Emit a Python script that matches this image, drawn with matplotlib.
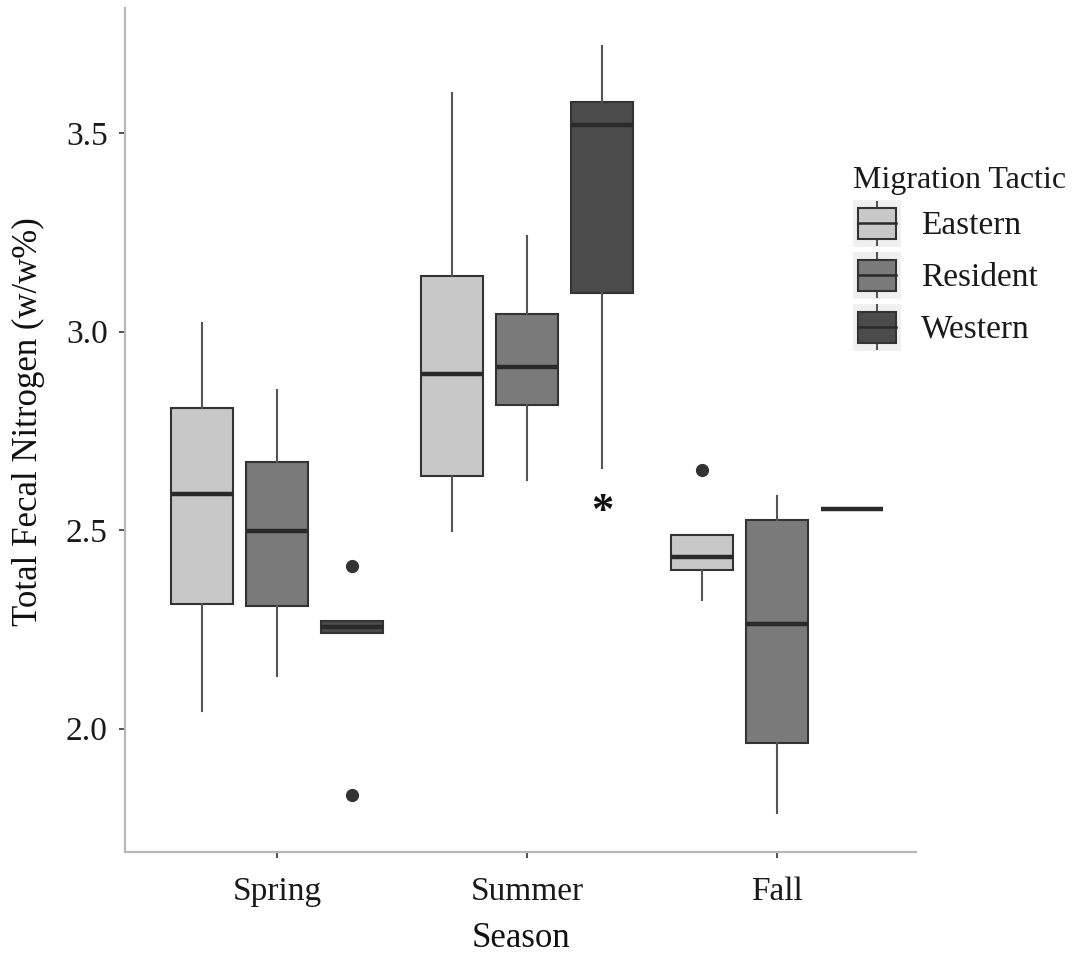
import numpy as np
import matplotlib.pyplot as plt
from matplotlib.legend_handler import HandlerBase
from matplotlib.patches import Rectangle
from matplotlib.lines import Line2D

plt.rcParams['font.family'] = ['Liberation Serif', 'DejaVu Serif']

seasons = ['Spring', 'Summer', 'Fall']
tactics = ['Eastern', 'Resident', 'Western']
fills = ['#c8c8c8', '#7a7a7a', '#4b4b4b']

# five-number summaries per tactic, one value per season
whislo = {'Eastern': [2.044, 2.497, 2.324],
          'Resident': [2.132, 2.626, 1.787],
          'Western': [2.241, 2.656, 2.553]}
q1 = {'Eastern': [2.314, 2.636, 2.399],
      'Resident': [2.309, 2.815, 1.963],
      'Western': [2.241, 3.097, 2.553]}
med = {'Eastern': [2.591, 2.893, 2.432],
       'Resident': [2.497, 2.911, 2.263],
       'Western': [2.256, 3.520, 2.553]}
q3 = {'Eastern': [2.807, 3.140, 2.487],
      'Resident': [2.671, 3.044, 2.525],
      'Western': [2.271, 3.578, 2.553]}
whishi = {'Eastern': [3.021, 3.601, 2.487],
          'Resident': [2.853, 3.241, 2.586],
          'Western': [2.271, 3.719, 2.553]}
fliers = {'Eastern': [[], [], [2.651]],
          'Resident': [[], [], []],
          'Western': [[2.409, 1.833], [], []]}

# significance mark for Western in summer
star_season = 'Summer'
star_tactic = 'Western'
star_y = 2.545

fig = plt.figure(figsize=(10.8, 9.55), dpi=100)
ax = fig.add_axes([125 / 1080, 103 / 955, (916 - 125) / 1080, (852 - 8) / 955])

dodge = 0.3
width = 0.25
for k, t in enumerate(tactics):
    stats = []
    for i in range(len(seasons)):
        stats.append(dict(whislo=whislo[t][i], q1=q1[t][i], med=med[t][i],
                          q3=q3[t][i], whishi=whishi[t][i], fliers=fliers[t][i]))
    pos = np.arange(len(seasons)) + (k - 1) * dodge
    ax.bxp(stats, positions=pos, widths=width, patch_artist=True,
           showcaps=False, manage_ticks=False,
           boxprops=dict(facecolor=fills[k], edgecolor='#333333', linewidth=1.5),
           medianprops=dict(color='#2a2a2a', linewidth=3.2, solid_capstyle='butt'),
           whiskerprops=dict(color='#555555', linewidth=1.5),
           flierprops=dict(marker='o', markersize=8.5, markerfacecolor='#333333',
                           markeredgecolor='#333333'))

ax.text(seasons.index(star_season) + (tactics.index(star_tactic) - 1) * dodge, star_y,
        '*', ha='center', va='center', fontsize=32, fontweight='bold', color='#111111')

ax.set_xlim(-0.608, 2.556)
ax.set_ylim(1.689, 3.815)
ax.set_xticks(range(len(seasons)))
ax.set_xticklabels(seasons)
ax.set_yticks([2.0, 2.5, 3.0, 3.5])
ax.set_yticklabels(['2.0', '2.5', '3.0', '3.5'])

for s in ['top', 'right']:
    ax.spines[s].set_visible(False)
for s in ['left', 'bottom']:
    ax.spines[s].set_color('#b8b8b8')
    ax.spines[s].set_linewidth(1.6)
ax.tick_params(axis='both', length=4.5, width=1.2, color='#333333',
               labelsize=24, labelcolor='#1a1a1a')
ax.tick_params(axis='x', pad=13)
ax.tick_params(axis='y', pad=8)

ax.set_xlabel('Season', fontsize=25, color='#111111', labelpad=11)
ax.set_ylabel('Total Fecal Nitrogen (w/w%)', fontsize=25, color='#111111')
ax.yaxis.set_label_coords(-0.101, 0.51)


class BoxKey(HandlerBase):
    def __init__(self, face):
        super().__init__()
        self.face = face

    def create_artists(self, legend, orig_handle, xdescent, ydescent,
                       width, height, fontsize, trans):
        x0, y0 = -xdescent, -ydescent
        bg = Rectangle((x0, y0), width, height, facecolor='#f0f0f0',
                       edgecolor='none', transform=trans)
        cx = x0 + width / 2
        wl = Line2D([cx, cx], [y0 + height * 0.04, y0 + height * 0.96],
                    color='#555555', linewidth=1.5, transform=trans)
        box = Rectangle((x0 + width * 0.11, y0 + height * 0.17), width * 0.78,
                        height * 0.66, facecolor=self.face, edgecolor='#333333',
                        linewidth=1.5, transform=trans)
        ml = Line2D([x0 + width * 0.11, x0 + width * 0.89],
                    [y0 + height * 0.5, y0 + height * 0.5],
                    color='#2a2a2a', linewidth=1.8, transform=trans)
        return [bg, wl, box, ml]


handles = [Rectangle((0, 0), 1, 1, facecolor=f) for f in fills]
leg = fig.legend(handles, tactics, title='Migration Tactic',
                 handler_map={h: BoxKey(f) for h, f in zip(handles, fills)},
                 loc='upper left', bbox_to_anchor=(846 / 1080, (955 - 159) / 955),
                 frameon=False, fontsize=24, title_fontsize=23,
                 handlelength=1.45, handleheight=1.79, labelspacing=0.15,
                 handletextpad=0.6, borderpad=0.2, borderaxespad=0,
                 alignment='left')
for txt in leg.get_texts():
    txt.set_color('#1a1a1a')
leg.get_title().set_color('#1a1a1a')

plt.savefig('out.png', dpi=100, facecolor='w')
